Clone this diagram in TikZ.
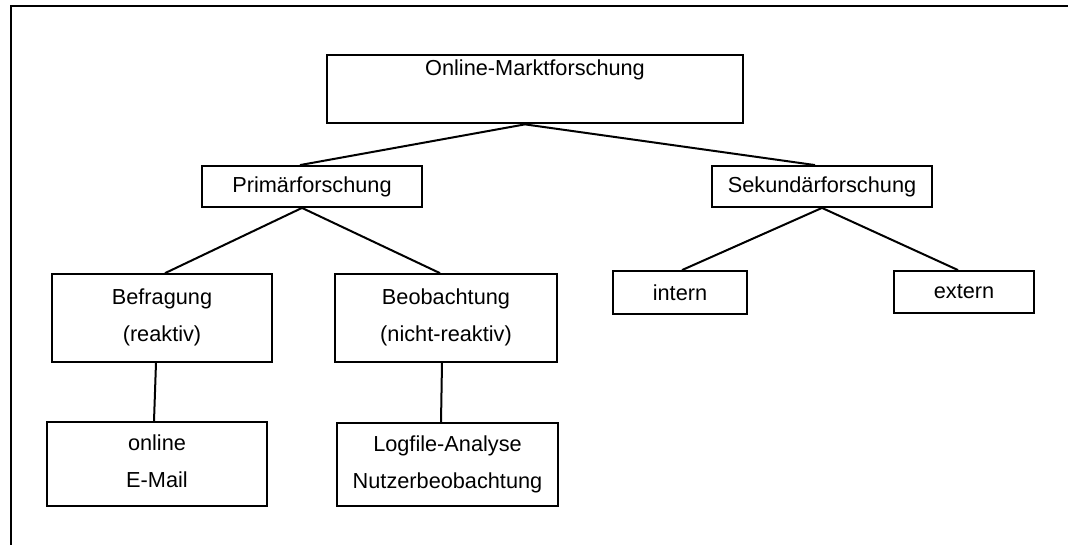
\documentclass[tikz,border=0pt]{standalone}
\usepackage{fontspec}
\setmainfont{Liberation Sans}
\begin{document}
\begin{tikzpicture}[x=1bp,y=-1bp,
  lbl/.style={font=\fontsize{21.8}{37}\selectfont},
  box/.style={draw, line width=2bp, rectangle, inner sep=0pt, align=center, lbl},
  link/.style={line width=2bp}]
\useasboundingbox (0,0) rectangle (1068,545);
% outer frame (top and left edges)
\draw[line width=2.2bp] (1068,6) -- (11,6) -- (11,545);

% boxes
\node[box, minimum width=418, minimum height=69,
  label={[anchor=north, yshift=-3bp, lbl]north:Online-Marktforschung}]
  (root) at (535,89) {};
\node[box, minimum width=220, minimum height=41] (prim) at (312,186.5) {Primärforschung};
\node[box, minimum width=220, minimum height=41] (sek) at (822,186.5) {Sekundärforschung};
\node[box, minimum width=134, minimum height=43] (intern) at (680,292.5) {intern};
\node[box, minimum width=140, minimum height=42] (extern) at (964,292) {extern};
\node[box, minimum width=220, minimum height=88, text depth=6bp] (befr) at (162,318) {Befragung\\(reaktiv)};
\node[box, minimum width=222, minimum height=88, text depth=6bp] (beob) at (446,318) {Beobachtung\\(nicht-reaktiv)};
\node[box, minimum width=220, minimum height=84, text depth=5bp] (online) at (157,464) {online\\E-Mail};
\node[box, minimum width=221, minimum height=83, text depth=5bp] (logf) at (447.5,464.5) {Logfile-Analyse\\Nutzerbeobachtung};

% connectors
\draw[link] ([xshift=-10bp]root.south) -- ([xshift=-12bp]prim.north);
\draw[link] ([xshift=-10bp]root.south) -- ([xshift=-7bp]sek.north);
\draw[link] ([xshift=-10bp]prim.south) -- ([xshift=3bp]befr.north);
\draw[link] ([xshift=-10bp]prim.south) -- ([xshift=-6bp]beob.north);
\draw[link] (sek.south) -- ([xshift=2bp]intern.north);
\draw[link] (sek.south) -- ([xshift=-6bp]extern.north);
\draw[link] ([xshift=-6bp]befr.south) -- ([xshift=-3bp]online.north);
\draw[link] ([xshift=-4bp]beob.south) -- ([xshift=-6.5bp]logf.north);
\end{tikzpicture}
\end{document}
